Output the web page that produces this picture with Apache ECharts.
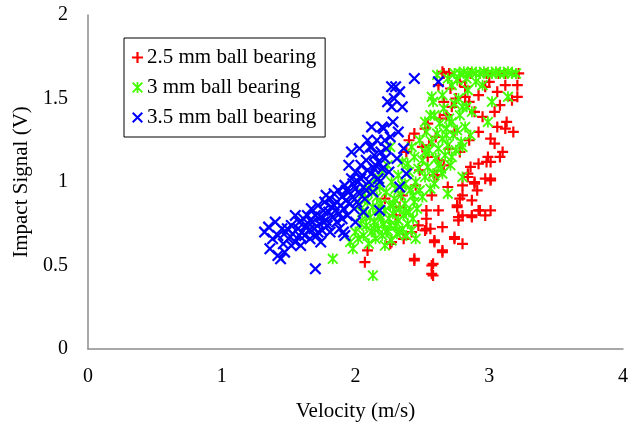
<!DOCTYPE html>
<html>
<head>
<meta charset="utf-8">
<script src="https://cdn.jsdelivr.net/npm/echarts@6/dist/echarts.min.js"></script>
<style>
  html, body { margin: 0; padding: 0; background: #fff; }
  #chart { width: 638px; height: 427px; }
</style>
</head>
<body>
<div id="chart"></div>
<script>
  // series names as in the legend
  var seriesNames = ["2.5 mm ball bearing", "3 mm ball bearing", "3.5 mm ball bearing"];
  var xTicks = [0, 1, 2, 3, 4];
  var yTicks = [0, 0.5, 1, 1.5, 2];

  // [velocity, impact signal]
  var red25 = [
    [2.07,0.52],[2.09,0.59],[2.26,0.63],[2.27,0.64],[2.44,0.54],[2.44,0.53],[2.57,0.50],[2.58,0.51],
    [2.57,0.45],[2.58,0.44],[2.65,0.58],[2.65,0.59],[2.59,0.64],[2.59,0.65],[2.74,0.67],[2.74,0.66],
    [2.80,0.63],[2.65,0.73],[2.53,0.72],[2.47,0.74],[2.52,0.71],[2.56,0.72],[2.53,0.78],[2.77,0.79],
    [2.77,0.77],[2.87,0.80],[2.87,0.79],[2.80,0.80],[2.93,0.83],[2.92,0.83],[2.97,0.80],[3.01,0.83],
    [2.76,0.85],[2.76,0.86],[2.87,0.89],[2.78,0.90],[2.80,0.92],[2.91,0.95],[2.80,0.98],[2.89,0.99],
    [2.97,1.02],[3.01,1.02],[3.01,1.01],[2.89,1.00],[2.84,1.05],[2.84,1.03],[2.61,1.04],[2.59,1.04],
    [2.69,0.97],[2.62,0.83],[2.53,0.83],[2.57,0.92],[2.48,1.07],[2.54,1.15],[2.50,1.21],[2.44,1.29],
    [2.52,1.32],[2.54,1.35],[2.55,1.22],[2.60,1.27],[2.62,1.13],[2.63,1.38],[2.68,1.40],[2.72,1.45],
    [2.66,1.48],[2.71,1.56],[2.75,1.50],[2.78,1.60],[2.62,1.58],[2.82,1.57],[2.82,1.51],[2.85,1.48],
    [2.89,1.42],[2.95,1.39],[2.92,1.52],[2.97,1.57],[3.00,1.60],[3.04,1.42],[3.06,1.54],[3.08,1.46],
    [3.12,1.58],[3.21,1.51],[3.21,1.58],[3.17,1.49],[3.13,1.36],[3.18,1.30],[3.06,1.33],[3.12,1.32],
    [2.92,1.30],[3.01,1.26],[3.04,1.23],[3.10,1.18],[2.99,1.15],[3.08,1.15],[2.92,1.11],[2.98,1.12],
    [3.01,1.12],[2.86,1.09],[2.35,0.92],[2.40,1.25],[2.45,0.98],[2.38,1.18],[2.33,0.85],[2.30,0.80],
    [2.22,0.90],[2.42,0.70],[2.36,0.66],[2.70,1.20],[2.74,1.30],[2.66,1.10],[2.78,1.18],[2.85,1.25],
    [2.65,1.66],[2.66,1.65],[2.70,1.65],[2.86,1.65],[2.98,1.65],[3.07,1.65],[3.12,1.65],[3.22,1.65]
  ];

  var green3 = [
    [1.83,0.54],[2.13,0.44],[1.96,0.64],[1.98,0.60],[2.00,0.70],[2.02,0.66],[2.04,0.75],
    [2.05,0.82],[2.06,0.68],[2.08,0.74],[2.09,0.88],[2.10,0.63],[2.11,0.79],[2.12,0.70],[2.13,0.85],
    [2.14,0.76],[2.15,0.66],[2.16,0.91],[2.17,0.72],[2.18,0.80],[2.19,0.87],[2.20,0.68],[2.21,0.75],
    [2.22,0.83],[2.23,0.94],[2.24,0.71],[2.25,0.78],[2.26,0.86],[2.27,0.65],[2.28,0.81],[2.29,0.90],
    [2.30,0.74],[2.31,0.69],[2.32,0.77],[2.33,0.84],[2.34,0.92],[2.35,0.72],[2.36,0.80],[2.37,0.87],
    [2.38,0.68],[2.39,0.75],[2.40,0.82],[2.41,0.95],[2.42,0.71],[2.43,0.78],[2.44,0.88],[2.45,0.66],
    [2.46,0.84],[2.12,0.94],[2.18,0.97],[2.22,0.62],[2.27,1.00],[2.30,0.96],[2.07,0.90],[2.15,1.02],
    [2.20,1.06],[2.26,1.21],[2.24,1.10],
    [2.08,0.80],[2.14,0.72],[2.19,0.78],[2.23,0.70],[2.28,0.86],[2.33,0.70],[2.38,0.82],[2.43,0.92],
    [2.26,0.74],[2.17,0.84],[2.35,0.98],[2.48,0.95],[2.52,1.18],[2.62,1.10],[2.68,1.28],[2.77,1.50],
    [2.83,1.45],[2.03,0.86],[2.06,0.93],[2.10,0.96],
    [2.32,1.04],[2.35,1.12],[2.37,0.99],[2.39,1.11],[2.40,1.06],[2.42,1.21],[2.44,1.15],[2.45,1.00],
    [2.47,1.08],[2.48,1.25],[2.50,0.91],[2.50,1.13],[2.52,1.03],[2.53,1.30],[2.54,1.09],[2.55,1.19],
    [2.56,0.96],[2.57,1.24],[2.58,1.05],[2.59,0.99],[2.59,1.40],[2.60,1.14],[2.61,1.29],[2.62,1.20],
    [2.63,1.35],[2.64,1.08],[2.65,1.05],[2.65,1.26],[2.66,1.44],[2.67,1.16],[2.68,1.32],[2.69,0.93],
    [2.69,1.22],[2.70,1.38],[2.71,1.10],[2.72,1.15],[2.72,1.36],[2.73,1.28],[2.74,1.47],[2.75,1.19],
    [2.76,1.31],[2.78,1.40],[2.79,1.24],[2.80,1.21],[2.80,1.45],[2.80,1.03],[2.82,1.33],[2.84,1.55],
    [2.86,1.28],[2.87,1.42],[2.90,1.60],[2.95,1.58],[2.99,1.36],[3.02,1.48],[3.14,1.51],[2.57,1.51],
    [2.65,1.52],[2.61,1.64],[2.69,1.62],[2.58,1.48],[2.56,1.40],[2.52,1.36],
    [2.74,1.65],[2.78,1.65],[2.81,1.66],[2.84,1.65],[2.87,1.66],[2.90,1.65],[2.93,1.65],[2.96,1.66],
    [2.99,1.65],[3.02,1.65],[3.05,1.66],[3.08,1.65],[3.11,1.65],[3.14,1.66],[3.17,1.65],[3.20,1.65],
    [2.76,1.61],[2.72,1.58],[2.83,1.62]
  ];

  var blue35 = [
    [1.32,0.70],[1.36,0.60],[1.38,0.66],[1.40,0.76],[1.42,0.56],[1.44,0.54],[1.42,0.68],[1.45,0.72],
    [1.46,0.63],[1.48,0.70],[1.49,0.72],[1.50,0.66],[1.47,0.58],[1.52,0.74],[1.53,0.69],[1.55,0.80],
    [1.55,0.64],[1.57,0.72],[1.58,0.76],[1.60,0.70],[1.59,0.62],[1.61,0.78],[1.62,0.68],[1.63,0.74],
    [1.64,0.80],[1.65,0.71],[1.66,0.66],[1.67,0.84],[1.68,0.76],[1.69,0.72],[1.70,0.48],[1.70,0.80],
    [1.71,0.68],[1.72,0.86],[1.73,0.75],[1.74,0.79],[1.75,0.71],[1.76,0.83],[1.77,0.88],[1.78,0.77],
    [1.79,0.74],[1.80,0.82],[1.81,0.70],[1.81,0.90],[1.82,0.85],[1.83,0.79],[1.84,0.93],[1.85,0.83],
    [1.86,0.76],[1.86,0.88],[1.87,0.95],[1.88,0.81],[1.89,0.86],[1.90,0.91],[1.91,0.70],[1.91,0.84],
    [1.92,0.98],[1.92,0.68],[1.93,0.89],[1.94,0.80],[1.95,0.94],[1.96,0.87],[1.97,1.18],[1.97,1.02],
    [1.98,0.91],[1.99,0.84],[2.00,1.06],[2.00,0.96],[2.01,0.88],[2.02,1.00],[2.03,0.93],[2.04,1.10],
    [2.05,1.04],[2.06,0.97],[2.07,0.90],[2.08,1.13],[2.09,1.07],[2.10,1.00],[2.11,1.21],[2.12,1.33],
    [2.12,1.05],[2.13,0.94],[2.14,1.16],[2.15,1.10],[2.16,1.25],[2.17,1.02],[2.18,0.83],[2.19,1.18],
    [2.20,1.08],[2.21,1.32],[2.22,1.14],[2.23,1.20],[2.24,1.48],[2.25,1.06],[2.26,1.27],[2.27,1.57],
    [2.27,1.45],[2.28,1.36],[2.29,1.50],[2.31,1.14],[2.32,1.30],[2.33,1.54],[2.33,0.97],[2.35,1.45],
    [2.36,1.20],[2.38,1.05],[2.44,1.62],[2.62,1.60],[1.88,0.72],[1.74,0.64],[1.78,0.92],[2.00,0.76],
    [2.06,0.82],[1.95,1.10],[2.03,1.20],[2.09,1.25],[2.30,1.57],[2.20,1.33],[2.12,1.21],
    [1.35,0.73],[1.52,0.62],[1.58,0.68],[1.66,0.77],[1.72,0.70],[1.76,0.76],[1.84,0.86],[1.90,0.78],
    [1.93,0.95],[1.98,0.99],[2.04,1.02],[2.08,0.95],[2.14,1.08],[2.17,1.12],[2.22,1.25],[2.18,1.00]
  ];

  var plusPath = "path://M4,0H6V10H4Z M0,4H10V6H0Z";
  var crossPath = "path://M0,1.3L1.3,0L10,8.7L8.7,10Z M8.7,0L10,1.3L1.3,10L0,8.7Z";
  var starPath = "path://M0,1.2L1.2,0L10,8.8L8.8,10Z M8.8,0L10,1.2L1.2,10L0,8.8Z M4.2,0H5.8V10H4.2Z";

  var serif = "'Liberation Serif', 'DejaVu Serif', serif";

  var chart = echarts.init(document.getElementById("chart"));
  chart.setOption({
    animation: false,
    textStyle: { fontFamily: serif, color: "#000" },
    grid: { left: 88, right: 15, top: 15, bottom: 76 },
    legend: {
      orient: "vertical",
      left: 124,
      top: 38,
      padding: [9, 9, 9, 8],
      itemGap: 9,
      itemWidth: 11,
      itemHeight: 11,
      borderColor: "#000",
      borderWidth: 1,
      textStyle: { fontFamily: serif, fontSize: 21, color: "#000", padding: [0, 0, 0, -1] },
      data: seriesNames
    },
    xAxis: {
      type: "value",
      min: xTicks[0],
      max: xTicks[xTicks.length - 1],
      interval: 1,
      name: "Velocity (m/s)",
      nameLocation: "middle",
      nameGap: 52,
      nameTextStyle: { fontFamily: serif, fontSize: 21, color: "#000" },
      axisLine: { lineStyle: { color: "#8c8c8c", width: 1.5 } },
      axisTick: { show: false },
      splitLine: { show: false },
      axisLabel: { fontFamily: serif, fontSize: 20, color: "#000", margin: 18 }
    },
    yAxis: {
      type: "value",
      min: yTicks[0],
      max: yTicks[yTicks.length - 1],
      interval: 0.5,
      name: "Impact Signal (V)",
      nameLocation: "middle",
      nameGap: 54,
      nameTextStyle: { fontFamily: serif, fontSize: 21, color: "#000" },
      axisLine: { show: true, lineStyle: { color: "#8c8c8c", width: 1.5 } },
      axisTick: { show: false },
      splitLine: { show: false },
      axisLabel: { fontFamily: serif, fontSize: 20, color: "#000", margin: 20 }
    },
    series: [
      {
        name: seriesNames[0], type: "scatter", data: red25,
        symbol: plusPath, symbolSize: 11,
        itemStyle: { color: "#ff0000", opacity: 1 }
      },
      {
        name: seriesNames[1], type: "scatter", data: green3,
        symbol: starPath, symbolSize: 11,
        itemStyle: { color: "#44ff00", opacity: 1 }
      },
      {
        name: seriesNames[2], type: "scatter", data: blue35,
        symbol: crossPath, symbolSize: 12,
        itemStyle: { color: "#0000ff", opacity: 1 }
      }
    ]
  });
</script>
</body>
</html>
